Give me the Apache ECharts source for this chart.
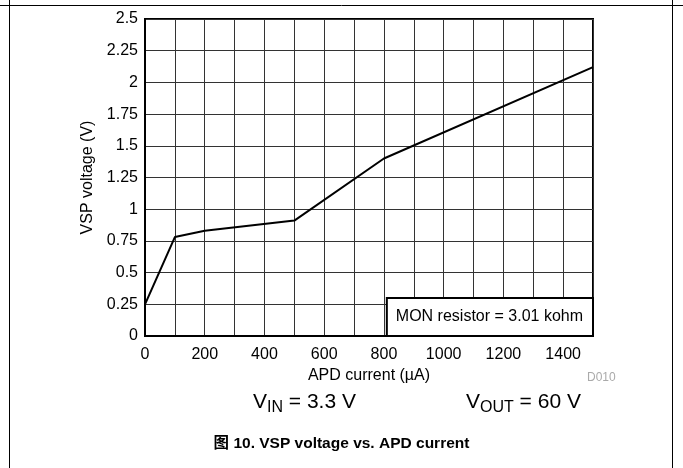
<!DOCTYPE html>
<html>
<head>
<meta charset="utf-8">
<script src="https://cdn.jsdelivr.net/npm/echarts@6/dist/echarts.min.js"></script>
<style>html,body{margin:0;padding:0;background:#fff}#c{width:683px;height:468px}</style>
</head>
<body>
<div id="c"></div>
<script>
// Data
const apdCurrent = [0, 100, 200, 500, 800, 1500];          // µA
const vspVoltage = [0.25, 0.78, 0.83, 0.91, 1.40, 2.12];    // V
const seriesName = 'MON resistor = 3.01 kohm';
const xTickLabels = [0, 200, 400, 600, 800, 1000, 1200, 1400];
const yTickLabels = [0, 0.25, 0.5, 0.75, 1, 1.25, 1.5, 1.75, 2, 2.25, 2.5];
const titleText = '图 10. VSP voltage vs. APD current';

const FONT = "'Liberation Sans', Arial, Helvetica, sans-serif";
const chart = echarts.init(document.getElementById('c'), null, {renderer: 'canvas'});

const points = apdCurrent.map((x, i) => [x, vspVoltage[i]]);

const sub = {
  v: {fontFamily: FONT, fontSize: 21, fill: '#000', verticalAlign: 'bottom', lineHeight: 24},
  s: {fontFamily: FONT, fontSize: 16, fill: '#000', verticalAlign: 'bottom', lineHeight: 20, padding: [0,0,-3,0]}
};

chart.setOption({
  backgroundColor: '#fff',
  animation: false,
  textStyle: {fontFamily: FONT},
  title: {
    text: titleText,
    left: 'center',
    top: 431,
    textStyle: {fontFamily: "'Liberation Sans', 'Noto Sans CJK SC', Arial, sans-serif", fontSize: 15.5, fontWeight: 'bold', color: '#000'}
  },
  grid: {
    left: 145, right: 90, top: 19, bottom: 132,
    show: true, borderColor: '#000', borderWidth: 2, backgroundColor: 'transparent'
  },
  legend: {
    data: [{name: seriesName, icon: 'none'}],
    right: 90, bottom: 132,
    itemWidth: 0, itemHeight: 0, itemGap: 0,
    padding: [11, 10, 11, 4],
    borderColor: '#000', borderWidth: 2, borderRadius: 0,
    backgroundColor: '#fff',
    selectedMode: false,
    textStyle: {fontFamily: FONT, fontSize: 16, color: '#000'}
  },
  xAxis: {
    type: 'value',
    min: 0, max: 1500, interval: 100,
    name: 'APD current (µA)',
    nameLocation: 'middle', nameGap: 27,
    nameTextStyle: {fontFamily: FONT, fontSize: 16, color: '#000'},
    axisLine: {show: true, lineStyle: {color: '#000', width: 2}},
    axisTick: {show: false},
    axisLabel: {
      margin: 11, fontFamily: FONT, fontSize: 16, color: '#000',
      formatter: v => (xTickLabels.indexOf(v) >= 0 ? String(v) : '')
    },
    splitLine: {show: true, lineStyle: {color: '#333', width: 1}}
  },
  yAxis: {
    type: 'value',
    min: 0, max: 2.5, interval: 0.25,
    name: 'VSP voltage (V)',
    nameLocation: 'middle', nameGap: 49,
    nameTextStyle: {fontFamily: FONT, fontSize: 16, color: '#000'},
    axisLine: {show: true, lineStyle: {color: '#000', width: 2}},
    axisTick: {show: false},
    axisLabel: {
      margin: 7, fontFamily: FONT, fontSize: 16, color: '#000',
      formatter: v => {
        const m = yTickLabels.find(t => Math.abs(t - v) < 1e-9);
        return m === undefined ? '' : String(m);
      }
    },
    splitLine: {show: true, lineStyle: {color: '#333', width: 1}}
  },
  series: [{
    name: seriesName,
    type: 'line',
    data: points,
    showSymbol: false,
    symbol: 'none',
    lineStyle: {color: '#000', width: 2},
    itemStyle: {color: '#000'},
    z: 3
  }],
  graphic: [
    {type: 'line', shape: {x1: 0, y1: 5.5, x2: 683, y2: 5.5}, style: {stroke: '#000', lineWidth: 1}, silent: true},
    {type: 'line', shape: {x1: 9.5, y1: 0, x2: 9.5, y2: 468}, style: {stroke: '#000', lineWidth: 1}, silent: true},
    {type: 'line', shape: {x1: 672.5, y1: 0, x2: 672.5, y2: 468}, style: {stroke: '#000', lineWidth: 1}, silent: true},
    {type: 'text', left: 587, top: 372, style: {text: 'D010', fill: '#aaa', font: "12px " + FONT}},
    {type: 'text', left: 253, top: 392, style: {text: '{v|V}{s|IN}{v| = 3.3 V}', rich: sub}},
    {type: 'text', left: 466, top: 392, style: {text: '{v|V}{s|OUT}{v| = 60 V}', rich: sub}}
  ]
});
</script>
</body>
</html>
